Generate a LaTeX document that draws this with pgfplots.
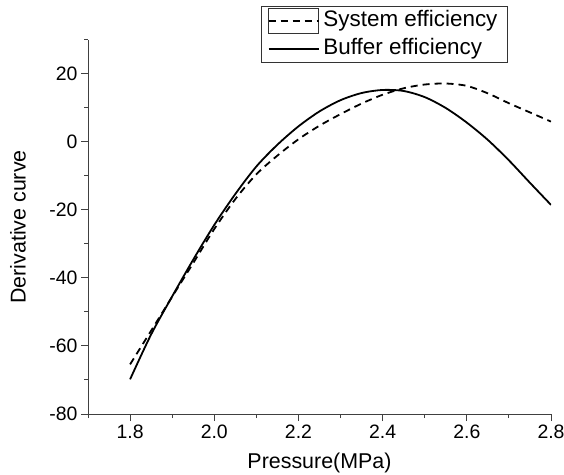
\documentclass[border=0pt]{standalone}
\usepackage{pgfplots}
\pgfplotsset{compat=1.18}
\usepackage{fontspec}
\setmainfont{Liberation Sans}
\pgfplotsset{
  sysleg/.style={legend image code/.code={%
    \draw[black!80, solid, line width=0.8bp] (0bp,-12.5bp) rectangle (50bp,12.5bp);
    \draw[black, line width=1.8bp, dash pattern=on 7bp off 5bp] (0bp,0bp) -- (50bp,0bp);}},
  bufleg/.style={legend image code/.code={%
    \draw[black, line width=1.8bp] (0bp,0bp) -- (50bp,0bp);}},
}
\begin{document}
\begin{tikzpicture}
\useasboundingbox (0bp,0bp) rectangle (564bp,475bp);
\begin{axis}[
  at={(88bp,61bp)}, anchor=south west,
  scale only axis, width=463bp, height=374bp,
  xmin=1.7, xmax=2.8, ymin=-80, ymax=30,
  axis lines*=left,
  axis line style={black!75, line width=1bp},
  tick align=outside,
  major tick length=7bp, minor tick length=4bp,
  every tick/.style={black!75, line width=1bp},
  xtick={1.8,2.0,2.2,2.4,2.6,2.8},
  minor xtick={1.7,1.9,2.1,2.3,2.5,2.7},
  ytick={-80,-60,-40,-20,0,20},
  minor ytick={-70,-50,-30,-10,10,30},
  xticklabel style={/pgf/number format/.cd, fixed, fixed zerofill, precision=1},
  /pgf/number format/assume math mode=true,
  tick label style={font=\fontsize{19.5}{21}\selectfont},
  label style={font=\fontsize{21.5}{24}\selectfont},
  xlabel={Pressure(MPa)},
  ylabel={Derivative curve},
  xlabel style={at={(axis description cs:0.5,-0.131)}, anchor=center},
  ylabel style={at={(axis description cs:-0.151,0.5)}, anchor=center},
  legend style={at={(0.907,1.091)}, anchor=north east, draw=black!80, line width=1bp,
    font=\fontsize{22.5}{24}\selectfont, inner xsep=6bp, inner ysep=2bp, row sep=3bp,
    column sep=0bp,
    nodes={inner xsep=4bp, inner ysep=1bp, text height=16bp, text depth=5bp},
    cells={anchor=west}},
]
\addplot[black, line width=1.8bp, dash pattern=on 7bp off 5bp, sysleg, smooth]
  coordinates {
  (1.80,-65.4) (1.85,-55.5) (1.90,-45.5) (1.95,-35.6) (2.00,-25.6) (2.05,-16.8)
  (2.10,-9.5) (2.15,-4.0) (2.20,0.8) (2.25,4.8) (2.30,8.2) (2.35,11.3)
  (2.40,13.9) (2.45,15.8) (2.50,16.9) (2.55,17.2) (2.60,16.5) (2.65,14.3)
  (2.70,11.4) (2.75,8.7) (2.80,6.0)
  };
\addlegendentry{System efficiency}
\addplot[black, line width=1.8bp, bufleg, smooth] coordinates {
  (1.80,-69.8) (1.85,-56.6) (1.90,-45.4) (1.95,-34.6) (2.00,-24.4) (2.05,-15.3)
  (2.10,-7.2) (2.15,-0.8) (2.20,4.6) (2.25,9.0) (2.30,12.3) (2.35,14.4)
  (2.40,15.3) (2.45,15.0) (2.50,13.2) (2.55,10.0) (2.60,5.7) (2.65,0.6)
  (2.70,-5.4) (2.75,-12.0) (2.80,-18.5)
  };
\addlegendentry{Buffer efficiency}
\end{axis}
\end{tikzpicture}
\end{document}
